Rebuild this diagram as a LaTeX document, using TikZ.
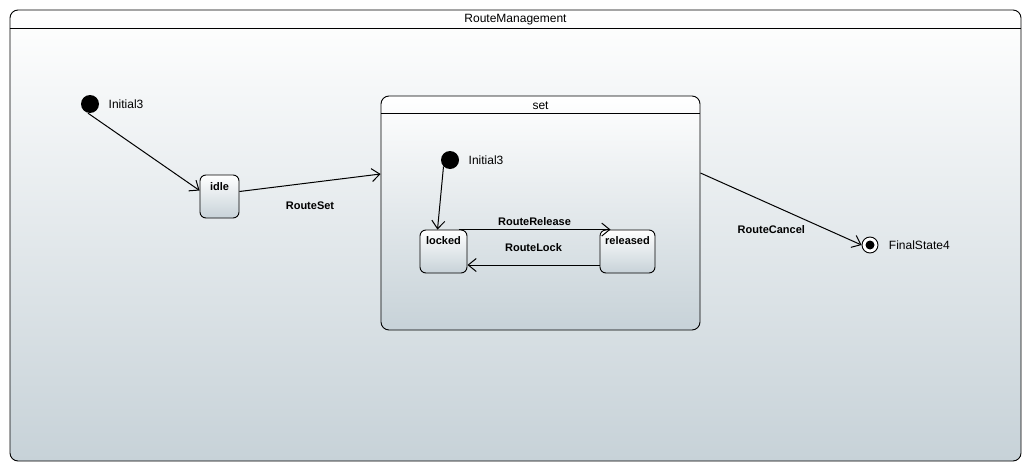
\documentclass[tikz,border=0pt]{standalone}
\usepackage{fontspec}
\setmainfont{Liberation Sans}
\usetikzlibrary{arrows.meta}
\definecolor{shadebottom}{RGB}{199,210,216}
\begin{document}
\begin{tikzpicture}[
  x=1pt, y=-1pt,
  frame/.style={rectangle, draw, line width=0.9pt, rounded corners=8pt, top color=white, bottom color=shadebottom, inner sep=0pt},
  state/.style={rectangle, draw, line width=0.9pt, rounded corners=6pt, top color=white, bottom color=shadebottom, minimum height=43pt, inner sep=0pt},
  initial/.style={circle, fill=black, minimum size=18pt, inner sep=0pt},
  final/.style={circle, draw, line width=0.9pt, fill=white, minimum size=16pt, inner sep=0pt, path picture={\fill[black] (path picture bounding box.center) circle (4.5pt);}},
  trans/.style={-{Straight Barb[length=8pt,width=13pt]}, line width=1pt},
  title/.style={anchor=center, font=\fontsize{12}{14}\selectfont},
  statename/.style={anchor=center, font=\bfseries\fontsize{11}{13}\selectfont},
  event/.style={font=\bfseries\fontsize{11}{13}\selectfont},
  font=\fontsize{12}{14}\selectfont
]
\useasboundingbox (0,0) rectangle (1031,471);
\node[frame, minimum width=1011pt, minimum height=451pt, label={[title, yshift=-10pt]north:RouteManagement}] (mgmt) at (515.5,235.5) {};
\draw[line width=0.9pt] ([yshift=-19pt]mgmt.north west) -- ([yshift=-19pt]mgmt.north east);
\node[frame, minimum width=319pt, minimum height=234pt, label={[title, yshift=-10pt]north:set}] (set) at (540.5,213) {};
\draw[line width=0.9pt] ([yshift=-18pt]set.north west) -- ([yshift=-18pt]set.north east);

\node[initial, label={[label distance=6pt]right:Initial3}] (start) at (90,104) {};
\node[state, minimum width=39pt, label={[statename, yshift=-12pt]north:idle}] (idle) at (219.5,196.5) {};
\node[initial, label={[label distance=6pt]right:Initial3}] (setstart) at (450,160) {};
\node[state, minimum width=47pt, label={[statename, yshift=-11pt]north:locked}] (locked) at (443.5,251.5) {};
\node[state, minimum width=55pt, label={[statename, yshift=-11pt]north:released}] (released) at (627.5,251.5) {};
\node[final, label={[label distance=7pt]right:FinalState4}] (stop) at (870,245) {};

\draw[trans] ([xshift=-2pt]start.south) -- ([yshift=6pt]idle.west);
\draw[trans] ([yshift=5pt]idle.east) -- node[event, below=15pt] {RouteSet} ([yshift=39pt]set.west);
\draw[trans] (setstart.south west) -- ([xshift=-6pt]locked.north);
\draw[trans] ([xshift=15pt]locked.north) -- node[event, above] {RouteRelease} ([xshift=-17pt]released.north);
\draw[trans] ([yshift=-13.5pt]released.west) -- node[event, above=10pt] {RouteLock} ([yshift=-13.5pt]locked.east);
\draw[trans] ([yshift=40pt]set.east) -- node[event, below=17pt, pos=0.44] {RouteCancel} (stop.west);
\end{tikzpicture}
\end{document}
